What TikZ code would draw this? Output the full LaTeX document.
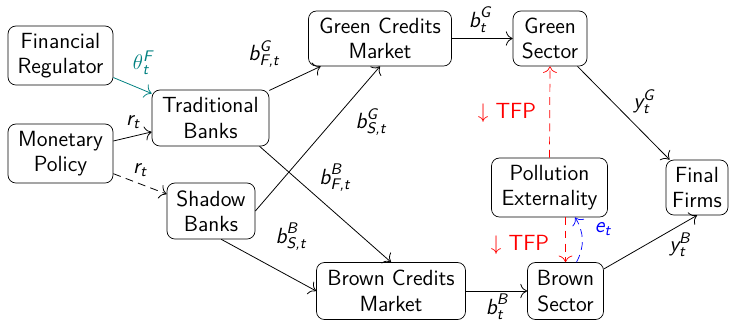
\documentclass[tikz,border=0pt]{standalone}
\usepackage{amsmath}
\usetikzlibrary{arrows.meta}
% sans-serif italic variables for labels
\newcommand{\sv}[1]{\textit{#1}}
\begin{document}
\begin{tikzpicture}[x=0.02cm,y=-0.02cm,
  font=\sffamily\fontsize{12.5}{14.4}\selectfont,
  >={To[scale=1.5]},
  box/.style={draw, rounded corners=4.5pt, align=center, inner sep=0pt},
  lbl/.style={inner sep=1pt},
  flow/.style={->, line width=0.45pt},
  dsh/.style={dash pattern=on 4.5pt off 3pt},
  tfp/.style={->, red, dsh},
  emis/.style={->, blue, dsh}]
\useasboundingbox (0,0) rectangle (732,322);

% agents
\node[box, minimum width=2.1cm,  minimum height=1.18cm] (fr)  at (60.5,55.5)  {Financial\\Regulator};
\node[box, minimum width=2.1cm,  minimum height=1.18cm] (mp)  at (60.5,153.5) {Monetary\\Policy};
\node[box, minimum width=2.34cm, minimum height=1.12cm] (tb)  at (210.5,118)  {Traditional\\Banks};
\node[box, minimum width=1.76cm, minimum height=1.12cm] (sb)  at (211,211)    {Shadow\\Banks};
\node[box, minimum width=2.86cm, minimum height=1.10cm] (gcm) at (380,38.5)   {Green Credits\\Market};
\node[box, minimum width=1.48cm, minimum height=1.10cm] (gs)  at (550,38.5)   {Green\\Sector};
\node[box, minimum width=2.32cm, minimum height=1.18cm] (pe)  at (549.5,187.5){Pollution\\Externality};
\node[box, minimum width=1.24cm, minimum height=1.10cm] (fi)  at (697,187.5)  {Final\\Firms};
\node[box, minimum width=2.98cm, minimum height=1.14cm] (bcm) at (391,291)    {Brown Credits\\Market};
\node[box, minimum width=1.52cm, minimum height=1.14cm] (bs)  at (565.5,291)  {Brown\\Sector};

% policy channels
\draw[flow, teal] (fr) -- (tb) node[lbl, teal] at (143,63) {$\theta_{\sv{t}}^{\sv{F}}$};
\draw[flow] (mp) -- (tb) node[lbl] at (133,122) {$\sv{r}_{\sv{t}}$};
\draw[flow, dsh] (mp) -- (sb) node[lbl] at (140,170) {$\sv{r}_{\sv{t}}$};

% credit flows
\draw[flow] (tb) -- (gcm) node[lbl] at (264,54) {$\sv{b}^{\sv{G}}_{\sv{F,t}}$};
\draw[flow] (tb.-30) -- (bcm.north) node[lbl] at (335,178) {$\sv{b}^{\sv{B}}_{\sv{F,t}}$};
\draw[flow] (sb.east) -- (gcm.south) node[lbl] at (371,122) {$\sv{b}^{\sv{G}}_{\sv{S,t}}$};
\draw[flow] (sb.-70) -- (bcm.west) node[lbl] at (291,237) {$\sv{b}^{\sv{B}}_{\sv{S,t}}$};
\draw[flow] (gcm) -- (gs) node[lbl] at (480,20) {$\sv{b}^{\sv{G}}_{\sv{t}}$};
\draw[flow] (bcm) -- (bs) node[lbl] at (497,307) {$\sv{b}^{\sv{B}}_{\sv{t}}$};

% output
\draw[flow] (gs) -- (fi) node[lbl] at (644,102) {$\sv{y}^{\sv{G}}_{\sv{t}}$};
\draw[flow] (bs) -- (fi.south) node[lbl] at (680,245) {$\sv{y}^{\sv{B}}_{\sv{t}}$};

% externality
\draw[tfp] (pe.north) -- (gs.south) node[lbl, red] at (507,113) {$\downarrow$ TFP};
\draw[tfp] (bs.north |- pe.south) -- (bs.north) node[lbl, red] at (520,245) {$\downarrow$ TFP};
\draw[emis] ([xshift=0.22cm]bs.north) to[bend right=30] ([xshift=0.51cm]pe.south)
  node[lbl, blue] at (603,229) {$\sv{e}_{\sv{t}}$};
\end{tikzpicture}
\end{document}
